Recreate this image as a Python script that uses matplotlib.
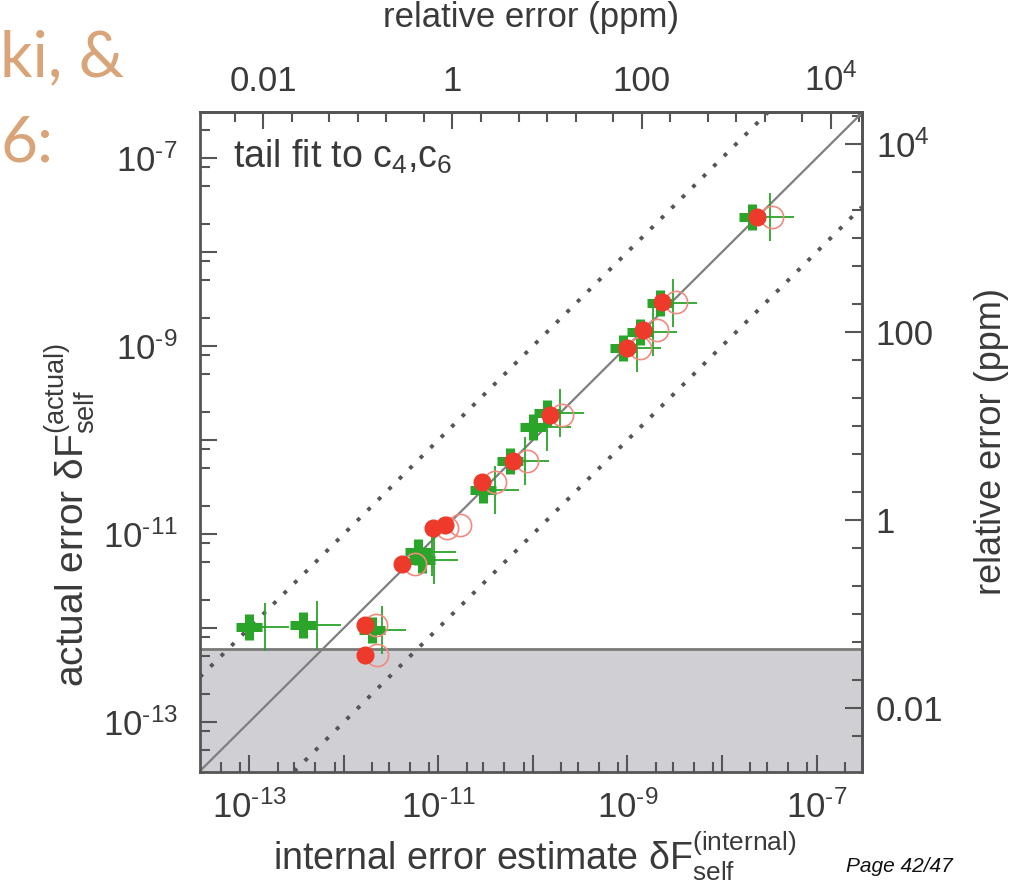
import matplotlib
matplotlib.use("Agg")
import matplotlib.pyplot as plt
from matplotlib.ticker import LogLocator, FixedLocator, FixedFormatter, NullFormatter

plt.rcParams['font.family'] = ['Liberation Sans', 'DejaVu Sans']
plt.rcParams['mathtext.fontset'] = 'custom'
plt.rcParams['mathtext.rm'] = 'Liberation Sans'
plt.rcParams['mathtext.it'] = 'Liberation Sans:italic'
plt.rcParams['mathtext.default'] = 'regular'

# self-energy value used for the relative-error (ppm) axes
F_SELF = 10 ** -4.85

# red series: filled = one estimate, open = companion estimate
red_x = [1.67e-12, 1.67e-12, 4.1e-12, 8.8e-12, 1.17e-11, 2.9e-11, 6.15e-11,
         1.51e-10, 9.9e-10, 1.46e-9, 2.31e-9, 2.33e-8]
red_y = [1.08e-12, 5.2e-13, 4.8e-12, 1.16e-11, 1.25e-11, 3.6e-11, 6.0e-11,
         1.85e-10, 9.6e-10, 1.49e-9, 2.95e-9, 2.37e-8]
red_open_x = [2.2e-12, 2.25e-12, 5.7e-12, 1.23e-11, 1.69e-11, 3.96e-11, 8.6e-11,
              2.03e-10, 1.35e-9, 2.05e-9, 3.25e-9, 3.36e-8]

# green series: thick cross = one estimate, thin cross = companion estimate
green_x = [1.0e-13, 3.7e-13, 1.99e-12, 6.1e-12, 6.7e-12, 2.96e-11, 5.7e-11,
           1.0e-10, 1.41e-10, 8.9e-10, 1.35e-9, 2.2e-9, 2.07e-8]
green_y = [1.03e-12, 1.08e-12, 9.6e-13, 6.5e-12, 5.3e-12, 2.95e-11, 6.0e-11,
           1.38e-10, 1.95e-10, 9.6e-10, 1.42e-9, 2.88e-9, 2.37e-8]
green_thin_x = [1.47e-13, 5.2e-13, 2.54e-12, 8.6e-12, 9.0e-12, 3.96e-11, 8.2e-11,
                1.41e-10, 1.93e-10, 1.26e-9, 1.86e-9, 3.0e-9, 3.2e-8]

# floor of the numerical precision (shaded region)
floor_y = 6.0e-13

x_lim = (10 ** -13.52, 10 ** -6.52)
y_lim = (10 ** -13.53, 10 ** -6.51)

HY = '\u2010'  # short hyphen as in the original tick labels
x_major = [1e-13, 1e-12, 1e-11, 1e-10, 1e-9, 1e-8, 1e-7]
x_labels = ['$10^{%s13}$' % HY, '', '$10^{%s11}$' % HY, '',
            '$10^{%s9}$' % HY, '', '$10^{%s7}$' % HY]
y_major = [1e-13, 1e-12, 1e-11, 1e-10, 1e-9, 1e-8, 1e-7]
y_labels = x_labels
ppm_ticks = [0.01, 1, 100, 1e4]
ppm_labels = ['0.01', '1', '100', '$10^4$']

txt = '#3a3a3a'
spine = '#555555'
green = '#2aa52a'
red = '#ee3a2a'
red_light = '#f28a80'

fig = plt.figure(figsize=(10.13, 8.9), dpi=100)
ax = fig.add_axes([0.1974, 0.1326, 0.6535, 0.7416])
ax.set_xscale('log')
ax.set_yscale('log')
ax.set_xlim(*x_lim)
ax.set_ylim(*y_lim)

# shaded floor
ax.axhspan(y_lim[0], floor_y, color='#cfcfd4', zorder=0)
ax.axhline(floor_y, color='#7a7a7a', lw=2, zorder=1)

# reference lines y = x, y = 10x, y = x/10
ax.plot(x_lim, x_lim, color='#7f7f7f', lw=1.6, zorder=2)
ax.plot(x_lim, [v * 10 for v in x_lim], color='#555555', lw=2.8,
        linestyle=(0, (1, 2.8)), zorder=2)
ax.plot(x_lim, [v / 10 for v in x_lim], color='#555555', lw=2.8,
        linestyle=(0, (1, 2.8)), zorder=2)

# data
ax.plot(green_x, green_y, linestyle='none', marker='+', ms=19, mew=6.5,
        color=green, zorder=3)
ax.plot(green_thin_x, green_y, linestyle='none', marker='+', ms=34, mew=1.3,
        color=green, zorder=4)
ax.plot(red_open_x, red_y, linestyle='none', marker='o', ms=16, mfc='none',
        mec=red_light, mew=1.2, zorder=5)
ax.plot(red_x, red_y, linestyle='none', marker='o', ms=12, color=red,
        mec=red, zorder=6)

ax.text(0.05, 0.932, 'tail fit to c$_4$,c$_6$', transform=ax.transAxes,
        fontsize=27, color=txt, ha='left', va='center')

# main ticks
ax.xaxis.set_major_locator(FixedLocator(x_major))
ax.xaxis.set_major_formatter(FixedFormatter(x_labels))
ax.xaxis.set_minor_locator(LogLocator(base=10, subs=(2, 3, 5, 8), numticks=20))
ax.xaxis.set_minor_formatter(NullFormatter())
ax.yaxis.set_major_locator(FixedLocator(y_major))
ax.yaxis.set_major_formatter(FixedFormatter(y_labels))
ax.yaxis.set_minor_locator(LogLocator(base=10, subs=(2, 5, 8), numticks=20))
ax.yaxis.set_minor_formatter(NullFormatter())
ax.tick_params(which='both', direction='in', color=spine, width=1.5,
               labelsize=25, labelcolor=txt)
ax.tick_params(axis='x', which='both', pad=13)
ax.tick_params(axis='y', which='both', pad=16)
ax.tick_params(which='major', length=12)
ax.tick_params(which='minor', length=7)
for s in ax.spines.values():
    s.set_color(spine)
    s.set_linewidth(2)

# relative error axes
to_ppm = (lambda v: v / F_SELF * 1e6, lambda r: r * F_SELF / 1e6)
top = ax.secondary_xaxis('top', functions=to_ppm)
top.set_xscale('log')
top.xaxis.set_major_locator(FixedLocator(ppm_ticks))
top.xaxis.set_major_formatter(FixedFormatter(ppm_labels))
top.xaxis.set_minor_locator(LogLocator(base=10, subs=(1, 2, 5), numticks=20))
top.xaxis.set_minor_formatter(NullFormatter())
right = ax.secondary_yaxis('right', functions=to_ppm)
right.set_yscale('log')
right.yaxis.set_major_locator(FixedLocator(ppm_ticks))
right.yaxis.set_major_formatter(FixedFormatter(ppm_labels))
right.yaxis.set_minor_locator(LogLocator(base=10, subs=(1, 2, 5), numticks=20))
right.yaxis.set_minor_formatter(NullFormatter())
for sec in (top, right):
    sec.tick_params(which='both', direction='in', color=spine, width=1.5,
                    labelsize=25, labelcolor=txt, pad=10)
    sec.tick_params(which='major', length=12)
    sec.tick_params(which='minor', length=7)
    for s in sec.spines.values():
        s.set_color(spine)
        s.set_linewidth(2)

ax.set_xlabel(r'internal error estimate $\delta F^{\rm (internal)}_{\rm self}$',
              fontsize=27, color=txt)
ax.xaxis.set_label_coords(0.505, -0.087)
ax.set_ylabel(r'actual error $\delta F^{\rm (actual)}_{\rm self}$',
              fontsize=28, color=txt)
ax.yaxis.set_label_coords(-0.155, 0.39)
top.set_xlabel('relative error (ppm)', fontsize=25, color=txt, labelpad=26)
right.set_ylabel('relative error (ppm)', fontsize=26, color=txt, labelpad=22)

# slide leftovers
fig.text(0.0, 0.934, 'ki, &', fontsize=46, color='#d9a478',
         family=['Lato', 'DejaVu Sans'], ha='left', va='center')
fig.text(0.0, 0.839, '6:', fontsize=46, color='#d9a478',
         family=['Lato', 'DejaVu Sans'], ha='left', va='center')
fig.text(0.888, 0.026, 'Page 42/47', fontsize=15, style='italic',
         color='#111111', ha='center', va='center')

fig.savefig('out.png', dpi=100)
